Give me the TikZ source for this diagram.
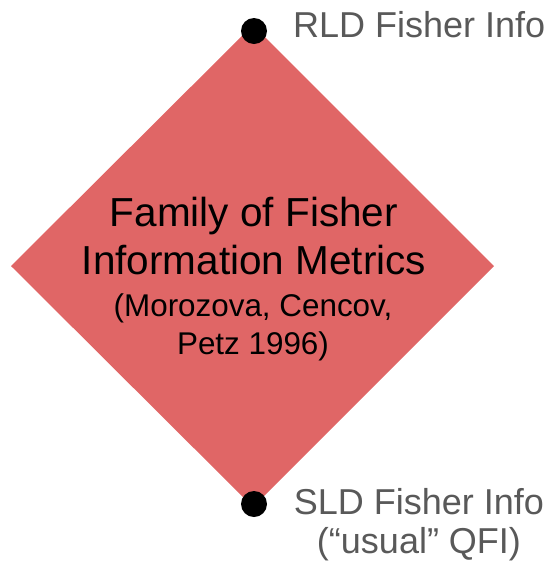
\documentclass[tikz,border=0pt]{standalone}
\usepackage{fontspec}
\setmainfont{Liberation Sans}
\usepackage{xcolor}
\definecolor{diamondred}{HTML}{E06666}
\definecolor{labelgray}{HTML}{595959}

\begin{document}
\begin{tikzpicture}[x=1pt, y=-1pt]
    \useasboundingbox (0,0) rectangle (549,566);
    \coordinate (top) at (253, 25);
    \coordinate (left) at (11, 266);
    \coordinate (bottom) at (253, 507);
    \coordinate (right) at (494, 266);
    \fill[diamondred] (top) -- (right) -- (bottom) -- (left) -- cycle;

    \node[align=center, inner sep=0pt, font=\fontsize{40.5}{48}\selectfont] (title) at (254, 236) {Family of Fisher\\Information Metrics};
    \node[align=center, inner sep=0pt, font=\fontsize{31.4}{38}\selectfont] (cite) at (253, 327) {(Morozova, Cencov,\\Petz 1996)};

    \node[shape=circle, fill=black, minimum size=26pt, inner sep=0pt] (rld) at (254, 31) {};
    \node[shape=circle, fill=black, minimum size=26pt, inner sep=0pt] (sld) at (254, 504) {};

    \node[anchor=base west, inner sep=0pt, text=labelgray, font=\fontsize{36}{39}\selectfont] (rldlabel) at (293, 37) {RLD Fisher Info};
    \node[anchor=north, align=center, inner sep=0pt, text=labelgray, font=\fontsize{36}{39}\selectfont] (sldlabel) at (419, 488) {SLD Fisher Info\\(“usual” QFI)};
\end{tikzpicture}
\end{document}
